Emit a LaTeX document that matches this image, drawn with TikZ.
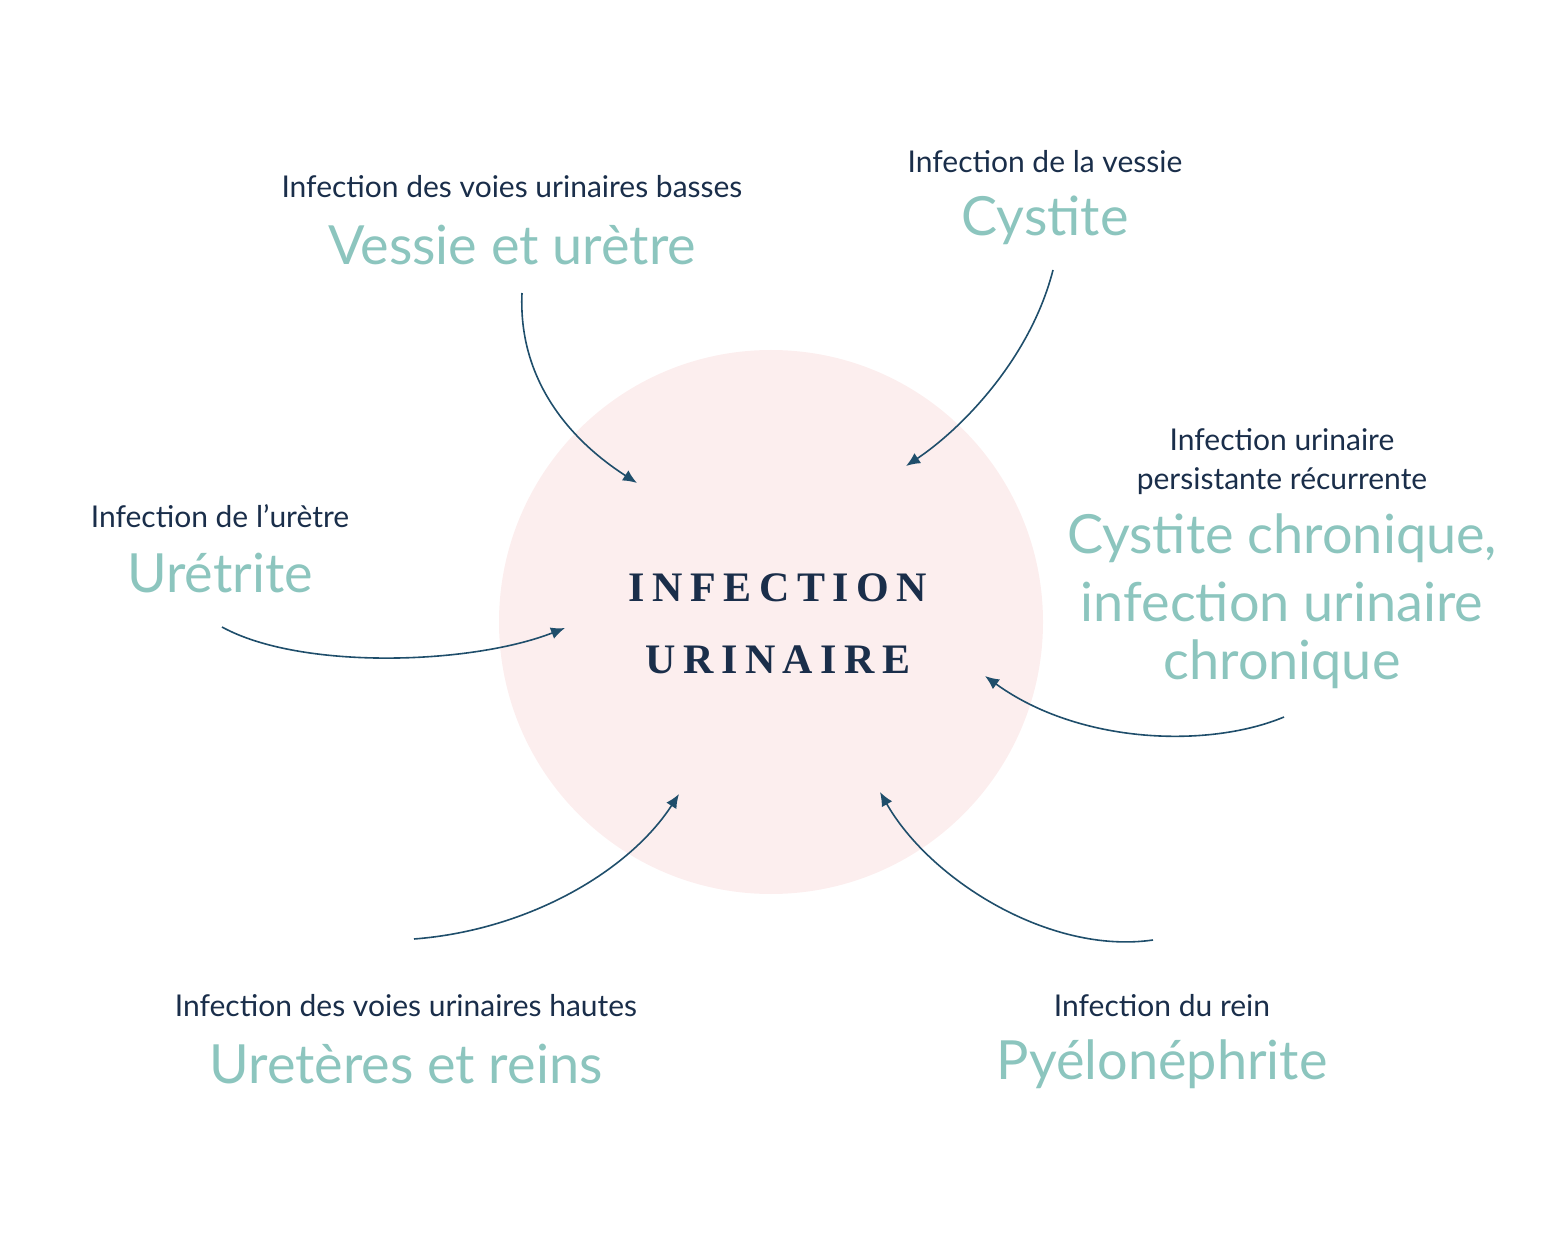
\documentclass[tikz,border=0pt]{standalone}
\usepackage{fontspec}
\setmainfont{Lato}
\newfontfamily\centerfont[LetterSpace=18]{Liberation Serif}
\usetikzlibrary{arrows.meta}
\definecolor{pinkbg}{HTML}{FCEEEE}
\definecolor{teal}{HTML}{8CC5BE}
\definecolor{navy}{HTML}{1A2E4A}
\definecolor{arrowc}{HTML}{1F4E6B}
\tikzset{
 small/.style={text=navy,font=\fontsize{15}{18}\selectfont,inner sep=0pt},
 big/.style={text=teal,font=\fontsize{27}{32}\selectfont,inner sep=0pt},
 conn/.style={draw=arrowc,line width=0.8pt,-{Latex[length=7pt,width=6pt]}}
}
\begin{document}
\begin{tikzpicture}[x=0.5pt,y=-0.5pt]
\useasboundingbox (0,0) rectangle (1558,1240);
\fill[pinkbg] (771,622) circle (272);
\node[text=navy,font=\centerfont\bfseries\fontsize{21}{25}\selectfont,inner sep=0pt] (c1) at (778,588) {INFECTION};
\node[text=navy,font=\centerfont\bfseries\fontsize{21}{25}\selectfont,inner sep=0pt] (c2) at (778,660) {URINAIRE};
\node[small] (l1) at (512,187) {Infection des voies urinaires basses};
\node[big] (b1) at (512,245) {Vessie et urètre};
\node[small] (l2) at (1045,162) {Infection de la vessie};
\node[big] (b2) at (1045,220) {Cystite};
\node[small] (l3a) at (1282,440) {Infection urinaire};
\node[small] (l3b) at (1282,481) {persistante récurrente};
\node[big] (b3a) at (1282,538) {Cystite chronique,};
\node[big] (b3b) at (1282,602) {infection urinaire};
\node[big] (b3c) at (1282,664) {chronique};
\node[small] (l4) at (220,516) {Infection de l'urètre};
\node[big] (b4) at (220,573) {Urétrite};
\node[small] (l5) at (406,1006) {Infection des voies urinaires hautes};
\node[big] (b5) at (406,1064) {Uretères et reins};
\node[small] (l6) at (1162,1006) {Infection du rein};
\node[big] (b6) at (1162,1064) {Pyélonéphrite};
\coordinate (s1) at (522,293); \coordinate (e1) at (637,483);
\coordinate (s2) at (1053,270); \coordinate (e2) at (906,466);
\coordinate (s3) at (222,627); \coordinate (e3) at (565,628);
\coordinate (s4) at (1284,717); \coordinate (e4) at (985,676);
\coordinate (s5) at (414,939); \coordinate (e5) at (679,794);
\coordinate (s6) at (1153,940); \coordinate (e6) at (880,792);
\draw[conn] (s1) .. controls (518,380) and (570,440) .. (e1);
\draw[conn] (s2) .. controls (1030,360) and (960,430) .. (e2);
\draw[conn] (s3) .. controls (300,670) and (470,665) .. (e3);
\draw[conn] (s4) .. controls (1210,748) and (1080,745) .. (e4);
\draw[conn] (s5) .. controls (530,930) and (630,870) .. (e5);
\draw[conn] (s6) .. controls (1050,955) and (930,880) .. (e6);
\end{tikzpicture}
\end{document}
